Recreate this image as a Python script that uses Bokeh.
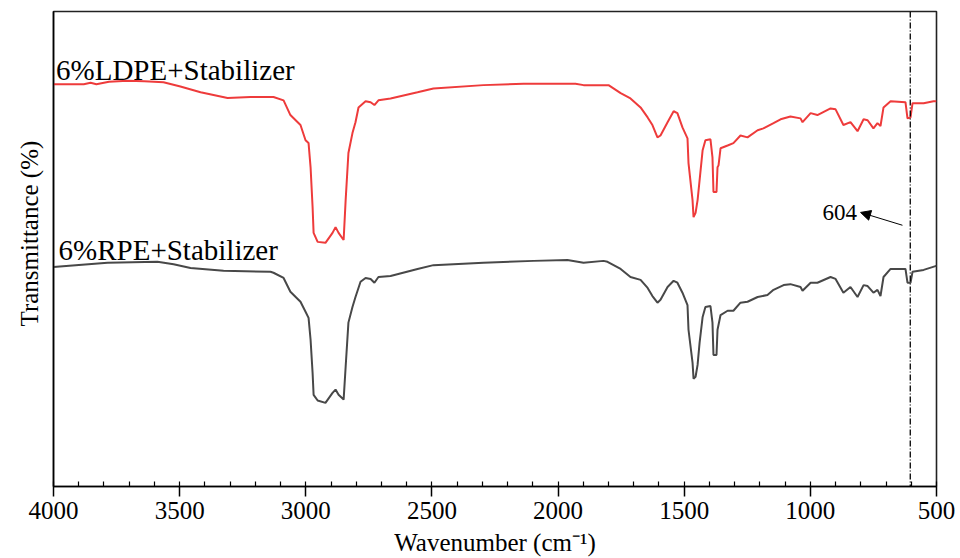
from bokeh.plotting import figure
from bokeh.models import Range1d, FixedTicker, Span, Label, Arrow, NormalHead, Title
from bokeh.embed import file_html
from bokeh.resources import INLINE

# FTIR spectra: wavenumber (cm-1) and transmittance (arbitrary offset, %)
ldpe_wn = [4000, 3880, 3853, 3830, 3780, 3707, 3640, 3564, 3497, 3417, 3310, 3219, 3128,
           3088, 3061, 3021, 3001, 2989, 2981, 2973, 2969, 2953, 2922, 2894, 2882, 2870,
           2850, 2842, 2831, 2815, 2803, 2791, 2763, 2743, 2728, 2712, 2664, 2557, 2494,
           2296, 2137, 1931, 1899, 1800, 1752, 1713, 1673, 1645, 1626, 1606, 1594, 1566,
           1542, 1527, 1507, 1487, 1483, 1467, 1463, 1455, 1447, 1439, 1427, 1416, 1396,
           1388, 1384, 1372, 1368, 1364, 1356, 1328, 1305, 1277, 1249, 1209, 1186, 1146,
           1118, 1079, 1039, 1031, 999, 972, 920, 900, 869, 841, 813, 789, 773, 750, 734,
           722, 710, 682, 623, 615, 603, 595, 551, 512, 500]
ldpe_t = [84.7, 84.7, 85.0, 84.7, 85.2, 85.4, 85.3, 85.1, 84.2, 83.0, 81.8, 82.0, 82.0,
          81.3, 78.2, 76.1, 72.9, 72.3, 67.2, 58.8, 53.4, 51.5, 51.3, 53.4, 54.6, 53.4,
          51.9, 60.3, 70.2, 74.4, 76.7, 79.8, 81.1, 80.9, 80.3, 81.3, 81.7, 83.0, 83.8,
          84.5, 84.8, 84.8, 84.5, 84.5, 82.8, 81.7, 79.8, 77.7, 76.1, 73.5, 73.9, 76.7,
          79.0, 78.6, 75.6, 73.3, 68.1, 60.3, 56.7, 57.6, 60.3, 64.5, 70.8, 72.9, 73.1,
          69.3, 62.0, 62.0, 67.2, 67.6, 71.2, 71.8, 72.3, 73.9, 73.5, 75.0, 75.4, 76.5,
          77.3, 77.9, 77.5, 76.7, 78.6, 78.2, 79.6, 79.4, 76.1, 76.7, 74.8, 77.3, 77.1,
          75.4, 76.5, 75.9, 79.8, 81.1, 80.9, 77.5, 77.7, 80.7, 80.7, 81.1, 81.1]

rpe_wn = [4000, 3786, 3588, 3524, 3457, 3326, 3140, 3128, 3088, 3061, 3021, 3001, 2989,
          2981, 2973, 2969, 2953, 2922, 2894, 2882, 2870, 2850, 2842, 2831, 2815, 2803,
          2783, 2763, 2743, 2728, 2712, 2664, 2557, 2494, 2296, 2097, 1963, 1899, 1820,
          1804, 1752, 1713, 1673, 1645, 1626, 1606, 1594, 1566, 1542, 1527, 1507, 1487,
          1483, 1467, 1463, 1455, 1447, 1439, 1427, 1416, 1396, 1388, 1384, 1372, 1368,
          1356, 1328, 1305, 1277, 1249, 1209, 1170, 1146, 1106, 1079, 1039, 1031, 999,
          972, 920, 900, 869, 841, 813, 789, 773, 750, 734, 722, 710, 682, 623, 615, 603,
          595, 551, 504, 500]
rpe_t = [46.2, 47.1, 47.3, 46.8, 46.0, 45.4, 45.2, 45.0, 43.9, 41.0, 38.9, 36.8, 35.5,
         30.9, 23.9, 19.3, 18.1, 17.6, 19.7, 20.4, 19.3, 18.3, 25.2, 34.5, 37.8, 39.9,
         43.1, 43.9, 43.7, 42.9, 44.1, 44.3, 45.8, 46.6, 47.1, 47.5, 47.7, 47.1, 47.5,
         47.3, 45.8, 44.1, 43.5, 41.8, 40.1, 38.7, 39.3, 42.0, 43.3, 42.9, 40.8, 38.2,
         33.0, 26.1, 22.7, 23.1, 25.6, 30.3, 35.7, 37.8, 38.0, 34.5, 27.7, 27.7, 33.0,
         36.1, 37.0, 37.0, 38.7, 38.9, 39.9, 40.3, 41.4, 42.4, 42.6, 42.0, 41.2, 42.9,
         42.9, 44.1, 43.7, 40.8, 42.0, 39.9, 42.4, 42.2, 40.8, 41.4, 40.1, 44.1, 45.8,
         45.8, 42.9, 42.9, 45.2, 45.6, 46.4, 46.4]

major_ticks = [4000, 3500, 3000, 2500, 2000, 1500, 1000, 500]
minor_ticks = list(range(4000, 499, -100))
marked_peak = 604

FONT = "Liberation Serif"

p = figure(width=960, height=558, output_backend="svg", toolbar_location=None,
           x_range=Range1d(4000, 500), y_range=Range1d(0, 100),
           min_border_left=53, min_border_right=24, min_border_top=11,
           min_border_bottom=71)

p.grid.visible = False
p.background_fill_color = "white"
p.border_fill_color = "white"
p.outline_line_color = "#222222"
p.outline_line_width = 1.6

xa = p.xaxis[0]
xa.ticker = FixedTicker(ticks=major_ticks, minor_ticks=minor_ticks)
xa.major_tick_out = 10
xa.major_tick_in = 0
xa.minor_tick_in = 5
xa.minor_tick_out = 0
xa.axis_line_width = 1.5
xa.major_tick_line_width = 1.5
xa.minor_tick_line_width = 1.2
xa.major_label_text_font = FONT
xa.major_label_text_font_size = "25px"
xa.major_label_text_color = "black"
xa.major_label_standoff = 5
xa.axis_label = "Wavenumber (cm\u207b\u00b9)"
xa.axis_label_text_font = FONT
xa.axis_label_text_font_size = "25px"
xa.axis_label_text_font_style = "normal"
xa.axis_label_standoff = 7
xa.axis_label_text_color = "black"

# left side: plain frame line with no ticks; the title sits in its own side panel
ya = p.yaxis[0]
ya.ticker = FixedTicker(ticks=[])
ya.major_tick_out = 0
ya.major_tick_in = 0
ya.minor_tick_in = 0
ya.minor_tick_out = 0
ya.axis_line_width = 1.5
ya.major_label_text_font_size = "0px"

p.add_layout(Title(text="Transmittance (%)", align="left", offset=160,
                   text_font=FONT, text_font_size="25px", text_font_style="normal",
                   text_color="#000000", standoff=21), "left")

p.line(ldpe_wn, ldpe_t, line_color="#EE3B3B", line_width=2)
p.line(rpe_wn, rpe_t, line_color="#484848", line_width=2)

p.add_layout(Span(location=marked_peak, dimension="height", line_color="black",
                  line_width=1.3, line_dash="6 2 1 2"))

p.add_layout(Label(x=3990, y=87.6, text="6%LDPE+Stabilizer", text_font=FONT,
                   text_font_size="29px", text_color="black", text_baseline="alphabetic"))
p.add_layout(Label(x=3980, y=49.8, text="6%RPE+Stabilizer", text_font=FONT,
                   text_font_size="29px", text_color="black", text_baseline="alphabetic"))

p.add_layout(Label(x=952, y=57.6, text=str(marked_peak), text_font=FONT,
                   text_font_size="23px", text_color="black", text_baseline="middle"))
p.add_layout(Arrow(x_start=635, y_start=55.0, x_end=801, y_end=57.7,
                   line_color="black", line_width=1,
                   end=NormalHead(size=10, fill_color="black", line_color="black")))

open("out.html", "w").write(file_html(p, INLINE))
